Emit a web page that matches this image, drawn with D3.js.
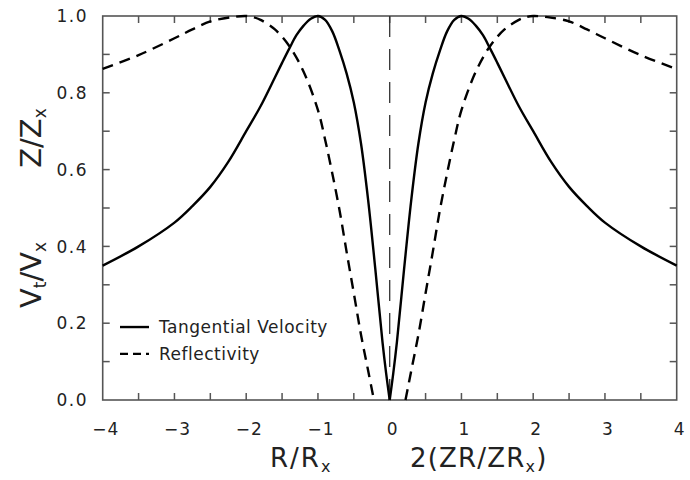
<!DOCTYPE html>
<html>
<head>
<meta charset="utf-8">
<script src="https://cdn.jsdelivr.net/npm/d3@7"></script>
<style>
  body { margin: 0; background: #fff; }
  svg { display: block; font-family: "DejaVu Sans", sans-serif; }
</style>
</head>
<body>
<svg id="chart" width="690" height="480"></svg>
<script>
// tangential velocity V_t/V_x
const velX = [-4, -3.5, -3, -2.75, -2.5, -2.25, -2, -1.8, -1.6, -1.5, -1.4, -1.3, -1.2, -1.1, -1, -0.9, -0.8, -0.7, -0.6, -0.5, -0.4, -0.3, -0.2, -0.1, -0.05, 0,
  0.05, 0.1, 0.2, 0.3, 0.4, 0.5, 0.6, 0.7, 0.8, 0.9, 1, 1.1, 1.2, 1.3, 1.4, 1.5, 1.6, 1.8, 2, 2.25, 2.5, 2.75, 3, 3.5, 4];
const velY = [0.35, 0.40, 0.462, 0.505, 0.555, 0.62, 0.70, 0.765, 0.84, 0.878, 0.915, 0.95, 0.975, 0.993, 1.0, 0.99, 0.96, 0.91, 0.85, 0.775, 0.668, 0.52, 0.34, 0.15, 0.07, 0,
  0.07, 0.15, 0.34, 0.52, 0.668, 0.775, 0.85, 0.91, 0.96, 0.99, 1.0, 0.993, 0.975, 0.95, 0.915, 0.878, 0.84, 0.765, 0.70, 0.62, 0.555, 0.505, 0.462, 0.40, 0.35];

// reflectivity Z/Z_x, left and right branches
const reflX = [-4, -3.5, -3, -2.75, -2.5, -2.2, -2, -1.9, -1.8, -1.6, -1.4, -1.2, -1, -0.9, -0.8, -0.7, -0.6, -0.5, -0.4, -0.3, -0.22,
  0.22, 0.3, 0.4, 0.5, 0.6, 0.7, 0.8, 0.9, 1, 1.2, 1.4, 1.6, 1.8, 1.9, 2, 2.2, 2.5, 2.75, 3, 3.5, 4];
const reflY = [0.862, 0.898, 0.942, 0.965, 0.986, 0.997, 1.0, 0.997, 0.99, 0.965, 0.922, 0.855, 0.755, 0.678, 0.59, 0.495, 0.385, 0.278, 0.17, 0.076, 0,
  0, 0.076, 0.17, 0.278, 0.385, 0.495, 0.59, 0.678, 0.755, 0.855, 0.922, 0.965, 0.99, 0.997, 1.0, 0.997, 0.986, 0.965, 0.942, 0.898, 0.862];

const xLabels = [-4, -3, -2, -1, 0, 1, 2, 3, 4];
const yLabels = [0, 0.2, 0.4, 0.6, 0.8, 1.0];
const legendNames = ['Tangential Velocity', 'Reflectivity'];

const width = 690;
const height = 480;
const margin = { top: 16, right: 13.3, bottom: 80, left: 102.7 };
const tickLen = 7;
const frameColor = '#555';

const svg = d3.select('#chart');

const xScale = d3.scaleLinear()
  .domain([-4, 4])
  .range([margin.left, width - margin.right]);

const yScale = d3.scaleLinear()
  .domain([0, 1])
  .range([height - margin.bottom, margin.top]);

const minorX = d3.range(1, 16).map((i) => -4 + i * 0.5);
const minorY = d3.range(1, 10).map((i) => i / 10);

const y0 = yScale(0);
const y1 = yScale(1);
const x0 = xScale(-4);
const x1 = xScale(4);

// inward ticks on all four sides, as small filled rects
const ticks = svg.append('g').attr('fill', frameColor);
ticks.selectAll('rect.xb')
  .data(minorX)
  .join('rect')
  .attr('class', 'xb')
  .attr('x', (d) => xScale(d) - 0.75)
  .attr('y', y0 - tickLen)
  .attr('width', 1.5)
  .attr('height', tickLen);
ticks.selectAll('rect.xt')
  .data(minorX)
  .join('rect')
  .attr('class', 'xt')
  .attr('x', (d) => xScale(d) - 0.75)
  .attr('y', y1)
  .attr('width', 1.5)
  .attr('height', tickLen);
ticks.selectAll('rect.yl')
  .data(minorY)
  .join('rect')
  .attr('class', 'yl')
  .attr('x', x0)
  .attr('y', (d) => yScale(d) - 0.75)
  .attr('width', tickLen)
  .attr('height', 1.5);
ticks.selectAll('rect.yr')
  .data(minorY)
  .join('rect')
  .attr('class', 'yr')
  .attr('x', x1 - tickLen)
  .attr('y', (d) => yScale(d) - 0.75)
  .attr('width', tickLen)
  .attr('height', 1.5);

svg.append('rect')
  .attr('x', x0)
  .attr('y', y1)
  .attr('width', x1 - x0)
  .attr('height', y0 - y1)
  .attr('fill', 'none')
  .attr('stroke', frameColor)
  .attr('stroke-width', 1.6);

// tick labels
svg.append('g')
  .selectAll('text')
  .data(xLabels)
  .join('text')
  .attr('x', (d) => xScale(d) + 3)
  .attr('y', 435)
  .attr('text-anchor', 'middle')
  .attr('font-size', 17)
  .attr('letter-spacing', 1)
  .attr('fill', '#222')
  .text((d) => (d < 0 ? '\u2212' + Math.abs(d) : d));

svg.append('g')
  .selectAll('text')
  .data(yLabels)
  .join('text')
  .attr('x', 88)
  .attr('y', (d) => yScale(d))
  .attr('dy', '0.36em')
  .attr('text-anchor', 'end')
  .attr('font-size', 17)
  .attr('letter-spacing', 1.5)
  .attr('fill', '#222')
  .text(d3.format('.1f'));

// centre line
svg.append('line')
  .attr('x1', xScale(0))
  .attr('x2', xScale(0))
  .attr('y1', y1)
  .attr('y2', y0)
  .attr('stroke', '#333')
  .attr('stroke-width', 1.3)
  .attr('stroke-dasharray', '21,12');

const line = d3.line()
  .x((d) => xScale(d[0]))
  .y((d) => yScale(d[1]))
  .curve(d3.curveCatmullRom.alpha(0.5));

const vel = velX.map((x, i) => [x, velY[i]]);
const refl = reflX.map((x, i) => [x, reflY[i]]);

[vel.filter((d) => d[0] <= 0), vel.filter((d) => d[0] >= 0)].forEach((branch) => {
  svg.append('path')
    .attr('d', line(branch))
    .attr('fill', 'none')
    .attr('stroke', '#000')
    .attr('stroke-width', 2.4);
});

[refl.filter((d) => d[0] < 0), refl.filter((d) => d[0] > 0)].forEach((branch) => {
  svg.append('path')
    .attr('d', line(branch))
    .attr('fill', 'none')
    .attr('stroke', '#000')
    .attr('stroke-width', 2.4)
    .attr('stroke-dasharray', '11,7');
});

// legend
const legend = svg.append('g');
legendNames.forEach((name, i) => {
  const ly = i === 0 ? yScale(0.19) : yScale(0.12);
  legend.append('line')
    .attr('x1', 120)
    .attr('x2', 149)
    .attr('y1', ly)
    .attr('y2', ly)
    .attr('stroke', '#000')
    .attr('stroke-width', 2.4)
    .attr('stroke-dasharray', i === 0 ? null : '8,5');
  legend.append('text')
    .attr('x', 159)
    .attr('y', ly)
    .attr('dy', '0.36em')
    .attr('font-size', 17)
    .attr('letter-spacing', 0.5)
    .attr('fill', '#222')
    .text(name);
});

// axis titles
const xTitle = svg.append('text')
  .attr('y', 467)
  .attr('font-size', 26)
  .attr('letter-spacing', 2)
  .attr('fill', '#222');
xTitle.append('tspan').attr('x', 270).text('R/R');
xTitle.append('tspan').attr('font-size', 16).attr('dy', 5).text('x');

const xTitle2 = svg.append('text')
  .attr('y', 467)
  .attr('font-size', 26)
  .attr('letter-spacing', 1.2)
  .attr('fill', '#222');
xTitle2.append('tspan').attr('x', 410).text('2(ZR/ZR');
xTitle2.append('tspan').attr('font-size', 16).attr('dy', 5).text('x');
xTitle2.append('tspan').attr('dy', -5).text(')');

const yTitle = (text, cy, sub1) => {
  const t = svg.append('text')
    .attr('transform', `translate(41,${cy}) rotate(-90)`)
    .attr('text-anchor', 'middle')
    .attr('font-size', 29)
    .attr('fill', '#222');
  t.append('tspan').text(text[0]);
  if (sub1) t.append('tspan').attr('font-size', 17).attr('dy', 5).text(sub1);
  t.append('tspan').attr('dy', sub1 ? -5 : 0).text('/' + text[1]);
  t.append('tspan').attr('font-size', 17).attr('dy', 5).text('x');
};
yTitle(['Z', 'Z'], 138, null);
yTitle(['V', 'V'], 275, 't');
</script>
</body>
</html>
